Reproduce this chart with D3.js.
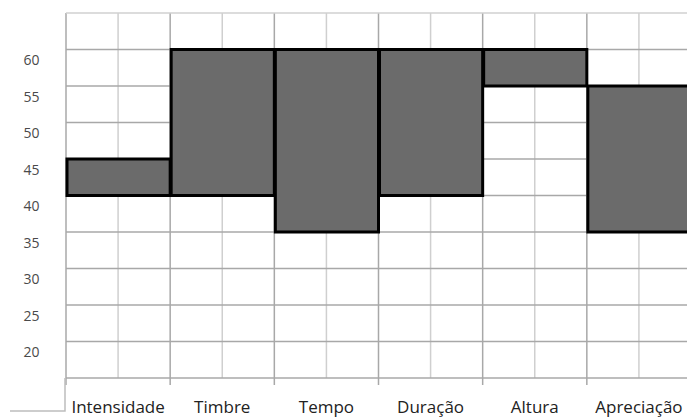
<!DOCTYPE html>
<html>
<head>
<meta charset="utf-8">
<script src="https://cdn.jsdelivr.net/npm/d3@7"></script>
<style>
  body { margin: 0; background: #fff; }
  svg { display: block; }
</style>
</head>
<body>
<div id="chart"></div>
<script>
// data
const categories = ['Intensidade', 'Timbre', 'Tempo', 'Duração', 'Altura', 'Apreciação'];
const lowValues = [40, 40, 35, 40, 55, 35];
const highValues = [45, 60, 60, 60, 60, 55];
const yTicks = [20, 25, 30, 35, 40, 45, 50, 55, 60];
const yGrid = [15, 20, 25, 30, 35, 40, 45, 50, 55, 60, 65];

const width = 687;
const height = 418;
const margin = {top: 13, bottom: 40, left: 66, right: -4};

const svg = d3.select('#chart').append('svg')
  .attr('width', width)
  .attr('height', height);

const x = d3.scaleBand()
  .domain(categories)
  .range([margin.left, width - margin.right])
  .padding(0);

const y = d3.scaleLinear()
  .domain([15, 65])
  .range([height - margin.bottom, margin.top]);

const bw = x.bandwidth();

// minor vertical grid (middle of each category)
svg.append('g').attr('class', 'vminor')
  .selectAll('line')
  .data(categories)
  .join('line')
  .attr('x1', d => x(d) + bw / 2)
  .attr('x2', d => x(d) + bw / 2)
  .attr('y1', y(65))
  .attr('y2', y(15))
  .style('stroke', '#cfcfcf')
  .style('stroke-width', '1.5px');

// major vertical grid (category boundaries)
const bounds = categories.map(d => x(d)).concat([x(categories[categories.length - 1]) + bw]);
svg.append('g').attr('class', 'vmajor')
  .selectAll('line')
  .data(bounds)
  .join('line')
  .attr('x1', d => d)
  .attr('x2', d => d)
  .attr('y1', y(65))
  .attr('y2', y(15) + 7)
  .style('stroke', '#a8a8a8')
  .style('stroke-width', '1.5px');

// horizontal grid
svg.append('g').attr('class', 'hgrid')
  .selectAll('line')
  .data(yGrid)
  .join('line')
  .attr('x1', margin.left)
  .attr('x2', width)
  .attr('y1', d => y(d))
  .attr('y2', d => y(d))
  .style('stroke', d => d === 65 ? '#d0d0d0' : '#a8a8a8')
  .style('stroke-width', '1.5px');

// floating bars
svg.append('g').attr('class', 'bars')
  .selectAll('rect')
  .data(categories)
  .join('rect')
  .attr('x', d => x(d) + 1)
  .attr('width', bw - 1)
  .attr('y', (d, i) => y(highValues[i]))
  .attr('height', (d, i) => y(lowValues[i]) - y(highValues[i]))
  .style('fill', '#6b6b6b')
  .style('stroke', '#000')
  .style('stroke-width', '3px');

// y labels (sit a bit below their grid line)
const yAxis = svg.append('g').attr('class', 'yaxis')
  .attr('transform', 'translate(40, 11)')
  .call(d3.axisLeft(y).tickValues(yTicks).tickSize(0).tickPadding(0));
yAxis.select('.domain').remove();
yAxis.selectAll('text')
  .attr('x', -8.5)
  .style('text-anchor', 'middle')
  .style('font-family', 'Open Sans, sans-serif')
  .style('font-size', '14px')
  .style('fill', '#4a4a4a');

// x labels
const xAxis = svg.append('g').attr('class', 'xaxis')
  .attr('transform', `translate(0, ${y(15)})`)
  .call(d3.axisBottom(x).tickSize(0).tickPadding(23));
xAxis.select('.domain').remove();
xAxis.selectAll('text')
  .style('font-family', 'Open Sans, sans-serif')
  .style('font-size', '17px')
  .style('fill', '#222');

// table border bottom-left
svg.append('path')
  .attr('d', `M${margin.left - 1},${y(15)} V${y(15) + 33} H10`)
  .style('fill', 'none')
  .style('stroke', '#bdbdbd')
  .style('stroke-width', '1.5px');
</script>
</body>
</html>
